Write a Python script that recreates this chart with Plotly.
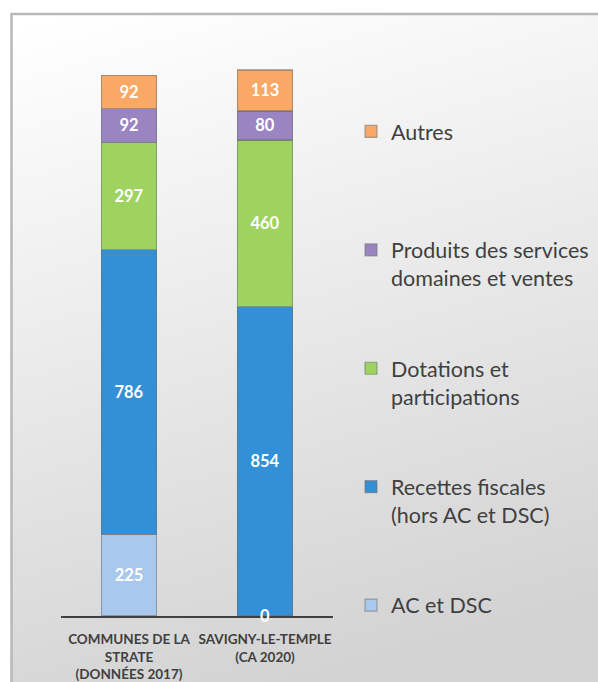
import base64
import plotly.graph_objects as go

categories = ["COMMUNES DE LA<br>STRATE<br>(DONNÉES 2017)", "SAVIGNY-LE-TEMPLE<br>(CA 2020)"]
series_names = ["AC et DSC", "Recettes fiscales<br>(hors AC et DSC)", "Dotations et<br>participations",
                "Produits des services<br>domaines et ventes", "Autres<br> "]
ac_dsc = [225, 0]
recettes = [786, 854]
dotations = [297, 460]
produits = [92, 80]
autres = [92, 113]
colors = ["#A9C8EE", "#3390D6", "#9DD35E", "#9A85C2", "#F9A866"]

series_values = [ac_dsc, recettes, dotations, produits, autres]

W, H = 598, 682
L, R, T, B = 61, 265, 40, 66
pw, ph = W - L - R, H - T - B

def px_x(p):
    return (p - L) / pw

def px_y(p):
    return (H - B - p) / ph

fig = go.Figure()
n = len(series_names)
for i, (name, vals, col) in enumerate(zip(series_names, series_values, colors)):
    fig.add_trace(go.Bar(
        x=categories, y=vals, name=name,
        marker=dict(color=col, line=dict(color="rgba(110,110,110,0.55)", width=1.2)),
        text=[str(v) for v in vals], textposition="inside", insidetextanchor="middle",
        textfont=dict(family="Lato", size=16.5, color="white", weight="bold"),
        legendgroup=name, legendrank=n - i, cliponaxis=False,
    ))

# zero-valued label at the base (value read from data)
for c, v in zip(categories, ac_dsc):
    if v == 0:
        fig.add_annotation(x=c, y=v, text=str(v), showarrow=False, yshift=0,
                           font=dict(family="Lato", size=16.5, color="white", weight="bold"))

svg = ('<svg xmlns="http://www.w3.org/2000/svg" width="600" height="700" preserveAspectRatio="none">'
       '<defs><linearGradient id="g" x1="0.1" y1="0" x2="0.35" y2="1">'
       '<stop offset="0" stop-color="#ffffff"/><stop offset="1" stop-color="#d3d3d3"/>'
       '</linearGradient></defs><rect width="600" height="700" fill="url(#g)"/></svg>')
uri = "data:image/svg+xml;base64," + base64.b64encode(svg.encode()).decode()

fig.add_layout_image(dict(source=uri, xref="paper", yref="paper",
                          x=px_x(11), y=px_y(13), sizex=px_x(620) - px_x(11), sizey=px_y(13) - px_y(700),
                          sizing="stretch", layer="below", xanchor="left", yanchor="top"))

fig.add_shape(type="rect", xref="paper", yref="paper", x0=px_x(11.5), x1=px_x(640), y0=px_y(14), y1=px_y(720),
              line=dict(color="#b8b8b8", width=2.5), fillcolor="rgba(0,0,0,0)", layer="below")

fig.update_layout(
    width=W, height=H,
    margin=dict(l=L, r=R, t=T, b=B, pad=0, autoexpand=False),
    barmode="stack", bargap=0.595,
    paper_bgcolor="white", plot_bgcolor="rgba(0,0,0,0)",
    showlegend=True,
    legend=dict(x=px_x(351), y=px_y(111), xanchor="left", yanchor="top",
                traceorder="grouped", tracegroupgap=59.5, valign="top",
                font=dict(family="Lato", size=21.5, color="#404040"),
                bgcolor="rgba(0,0,0,0)", itemwidth=30),
    xaxis=dict(showline=True, linecolor="#404040", linewidth=1.6, ticks="", showgrid=False, automargin=False,
               tickfont=dict(family="Lato", size=13.5, color="#404040", weight="bold"), ticklabelstandoff=10),
    yaxis=dict(range=[0, (H - B - T) / 0.3623], visible=False, showgrid=False, automargin=False),
)

fig.write_html("out.html", post_script="document.body.style.margin='0';",
               config={"displayModeBar": False})
